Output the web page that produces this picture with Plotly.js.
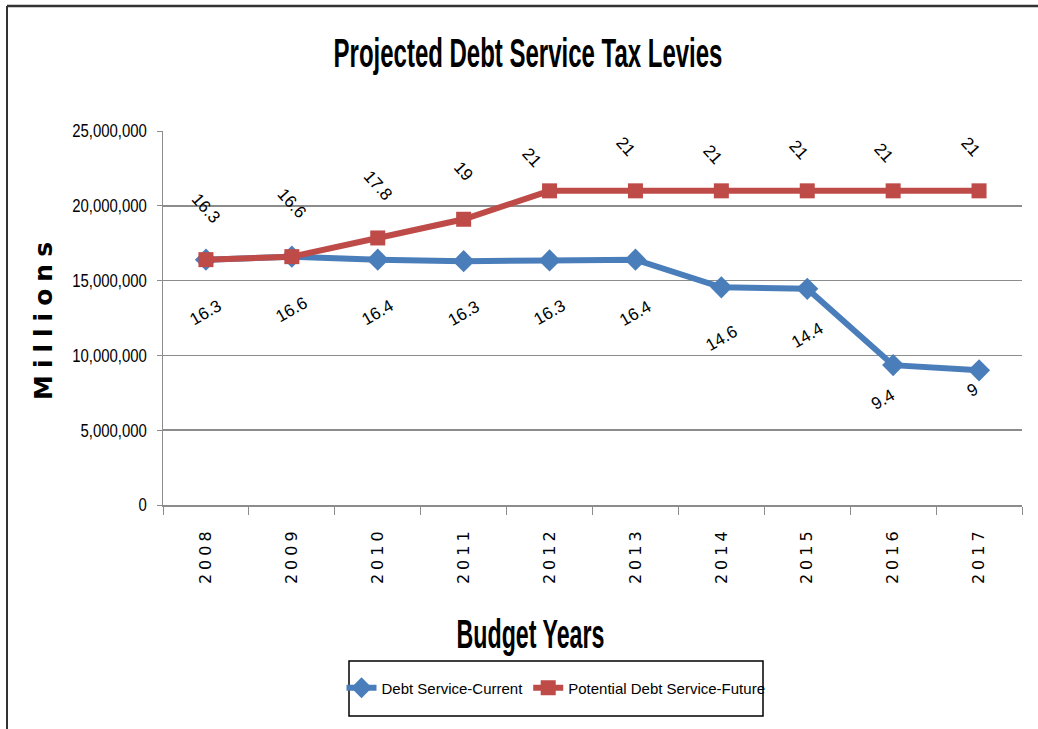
<!DOCTYPE html>
<html>
<head>
<meta charset="utf-8">
<script src="https://cdn.plot.ly/plotly-3.0.1.min.js"></script>
<style>
  html, body { margin: 0; padding: 0; background: #ffffff; }
  #chart { width: 1038px; height: 729px; }
</style>
</head>
<body>
<div id="chart"></div>
<script>
// ---- data ----
var years = ["2008", "2009", "2010", "2011", "2012", "2013", "2014", "2015", "2016", "2017"];
var currentValues = [16400000, 16600000, 16400000, 16300000, 16350000, 16400000, 14550000, 14450000, 9350000, 9000000];
var futureValues  = [16400000, 16600000, 17850000, 19100000, 21000000, 21000000, 21000000, 21000000, 21000000, 21000000];
var currentLabels = ["16.3", "16.6", "16.4", "16.3", "16.3", "16.4", "14.6", "14.4", "9.4", "9"];
var futureLabels  = ["16.3", "16.6", "17.8", "19", "21", "21", "21", "21", "21", "21"];
var yTicks = [0, 5000000, 10000000, 15000000, 20000000, 25000000];
var seriesNames = ["Debt Service-Current", "Potential Debt Service-Future"];

// ---- label placement (pixel offsets from each point) ----
var curDx = [0, 0, 0, 0, 0, 0, 0, 0, -10, -7];
var curDy = [-53, -53, -53, -52, -52, -54, -51, -47, -34, -20];
var futDx = [0, 0, 0, 0, -18, -10, -9, -9, -10, -9];
var futDy = [51, 53, 52, 48, 33, 44, 36, 41, 38, 44];

var SANS = '"Liberation Sans", Arial, sans-serif';
var WIDE = '"DejaVu Sans", sans-serif';
var BLUE = '#4A7EBB';
var RED = '#BE4B48';
var GRID = '#8C8C8C';

// plot area in pixels
var L = 163, R = 1022, T = 131, B = 505, W = 1038, H = 729;
function px(x) { return (x - L) / (R - L); }
function py(y) { return (B - y) / (B - T); }

var traces = [
  {
    x: years, y: currentValues, name: seriesNames[0],
    type: 'scatter', mode: 'lines+markers',
    line: { color: BLUE, width: 6 },
    marker: { symbol: 'diamond', size: 17, color: BLUE }
  },
  {
    x: years, y: futureValues, name: seriesNames[1],
    type: 'scatter', mode: 'lines+markers',
    line: { color: RED, width: 6 },
    marker: { symbol: 'square', size: 15, color: RED }
  }
];

var annotations = [];
years.forEach(function (yr, i) {
  annotations.push({
    x: i, y: currentValues[i], xref: 'x', yref: 'y',
    text: currentLabels[i], showarrow: false, textangle: -30,
    xanchor: 'center', yanchor: 'middle',
    xshift: curDx[i], yshift: curDy[i],
    font: { family: SANS, size: 17, color: '#000' }
  });
  annotations.push({
    x: i, y: futureValues[i], xref: 'x', yref: 'y',
    text: futureLabels[i], showarrow: false, textangle: 48,
    xanchor: 'center', yanchor: 'middle',
    xshift: futDx[i], yshift: futDy[i],
    font: { family: SANS, size: 17, color: '#000' }
  });
});

annotations.push({
  xref: 'paper', yref: 'paper', x: px(43), y: py(318),
  text: '<b><span style="letter-spacing:7px">Millions</span></b>', textangle: -90, showarrow: false,
  xanchor: 'center', yanchor: 'middle',
  font: { family: WIDE, size: 25, color: '#000' }
});
annotations.push({
  xref: 'paper', yref: 'paper', x: px(530), y: py(634),
  text: '<b>Budget Years</b>', showarrow: false,
  xanchor: 'center', yanchor: 'middle',
  font: { family: SANS, size: 40, color: '#000' }
});

var layout = {
  width: W, height: H,
  margin: { l: L, r: W - R, t: T, b: H - B, pad: 0 },
  paper_bgcolor: '#ffffff', plot_bgcolor: '#ffffff',
  title: {
    text: '<b>Projected Debt Service Tax Levies</b>',
    x: 528 / W, xref: 'container', xanchor: 'center',
    y: 1 - 53 / H, yref: 'container', yanchor: 'middle',
    font: { family: SANS, size: 40, color: '#000' }
  },
  xaxis: {
    type: 'category',
    tickmode: 'array', tickvals: years,
    ticktext: years.map(function (s) { return '<span style="letter-spacing:4px">' + s + '</span>'; }),
    tickangle: -90,
    tickson: 'boundaries',
    ticks: 'outside', ticklen: 8, tickcolor: GRID, tickwidth: 1,
    showline: true, linecolor: GRID, linewidth: 2,
    showgrid: false, zeroline: false,
    range: [-0.5, 9.5],
    ticklabelstandoff: 14,
    tickfont: { family: WIDE, size: 16, color: '#000' }
  },
  yaxis: {
    range: [0, 25000000],
    tickmode: 'array', tickvals: yTicks,
    tickformat: ',d',
    ticks: 'outside', ticklen: 5, tickcolor: GRID, tickwidth: 1,
    showline: true, linecolor: GRID, linewidth: 1.5,
    showgrid: true, gridcolor: GRID, gridwidth: 1.5,
    zeroline: false,
    ticklabelstandoff: 6,
    tickfont: { family: SANS, size: 18, color: '#000' }
  },
  legend: {
    orientation: 'h',
    x: px(556), xanchor: 'center',
    y: py(688), yanchor: 'middle',
    bgcolor: 'rgba(0,0,0,0)', borderwidth: 0,
    font: { family: SANS, size: 15, color: '#000' },
    itemwidth: 30, tracegroupgap: 0
  },
  shapes: [
    { type: 'rect', xref: 'paper', yref: 'paper', x0: px(349), x1: px(763), y0: py(661), y1: py(716),
      line: { color: '#000', width: 1.5 }, fillcolor: 'rgba(0,0,0,0)', layer: 'below' },
    { type: 'line', xref: 'paper', yref: 'paper', x0: px(7), x1: px(1040), y0: py(6), y1: py(6),
      line: { color: '#333', width: 2.5 } },
    { type: 'line', xref: 'paper', yref: 'paper', x0: px(7), x1: px(7), y0: py(6), y1: py(732),
      line: { color: '#333', width: 2 } }
  ],
  annotations: annotations,
  showlegend: true
};

// horizontally condense a text element (the reference uses a condensed face)
// pivot: 0 = left edge, 0.5 = centre, 1 = right edge
function squeeze(el, s, pivot) {
  if (!el) return;
  var bb = el.getBBox();
  var cx = bb.x + bb.width * (pivot === undefined ? 0.5 : pivot);
  var t = el.getAttribute('transform') || '';
  el.setAttribute('transform', t + ' translate(' + cx + ',0) scale(' + s + ',1) translate(' + (-cx) + ',0)');
}

Plotly.newPlot('chart', traces, layout, { displayModeBar: false, staticPlot: true }).then(function (gd) {
  squeeze(gd.querySelector('.gtitle'), 0.6, 0.5);
  gd.querySelectorAll('text.annotation-text').forEach(function (el) {
    if (el.textContent === 'Budget Years') squeeze(el, 0.58, 0.5);
  });
  gd.querySelectorAll('.ytick text').forEach(function (el) {
    squeeze(el, 0.83, 1);
  });
});
</script>
</body>
</html>
